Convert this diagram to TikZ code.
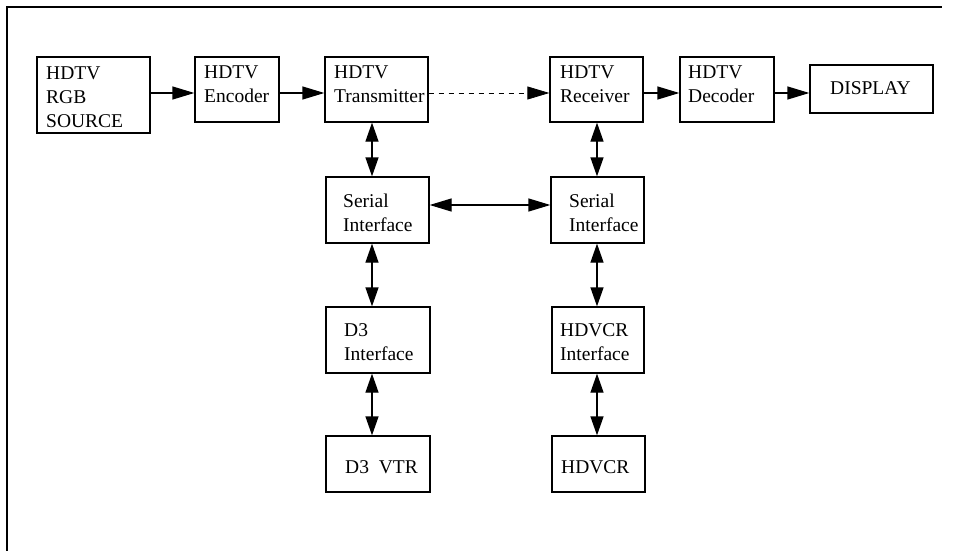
\documentclass[tikz,border=0pt]{standalone}
\usepackage{fontspec}
\setmainfont{Liberation Serif}
\usetikzlibrary{arrows.meta}
\begin{document}
\begin{tikzpicture}[x=1pt,y=-1pt,
 box/.style={draw, line width=1.3pt, inner sep=0pt},
 txt/.style={anchor=base west, align=left, inner sep=0pt, font=\fontsize{19.5}{24}\selectfont},
 arr/.style={line width=1.3pt, -{Triangle[length=22pt,width=13pt]}},
 darr/.style={line width=1.3pt, {Triangle[length=19pt,width=13pt]}-{Triangle[length=19pt,width=13pt]}},
 harr/.style={line width=1.3pt, {Triangle[length=22pt,width=13pt]}-{Triangle[length=22pt,width=13pt]}},
]
\useasboundingbox (0,0) rectangle (955,551);
\draw[line width=1.2pt] (7,551) -- (7,7) -- (942,7);
% boxes
\node[box, minimum width=113pt, minimum height=76pt] (src) at (93.5,95) {};
\node[box, minimum width=84pt, minimum height=65pt] (enc) at (237,89.5) {};
\node[box, minimum width=103pt, minimum height=65pt] (trans) at (376.5,89.5) {};
\node[box, minimum width=93pt, minimum height=65pt] (recv) at (596.5,89.5) {};
\node[box, minimum width=94pt, minimum height=65pt] (dec) at (727,89.5) {};
\node[box, minimum width=123pt, minimum height=48pt] (disp) at (871.5,89) {};
\node[box, minimum width=103pt, minimum height=66pt] (serL) at (377.5,210) {};
\node[box, minimum width=93pt, minimum height=66pt] (serR) at (597.5,210) {};
\node[box, minimum width=104pt, minimum height=66pt] (d3i) at (378,340) {};
\node[box, minimum width=92pt, minimum height=66pt] (hdi) at (598,340) {};
\node[box, minimum width=104pt, minimum height=56pt] (d3v) at (378,464) {};
\node[box, minimum width=93pt, minimum height=56pt] (hdv) at (598.5,464) {};
% texts (anchor = baseline of the last line)
\node[txt] (srct) at (46,127) {HDTV\\RGB\\SOURCE};
\node[txt] (enct) at (204,102) {HDTV\\Encoder};
\node[txt] (transt) at (334,102) {HDTV\\Transmitter};
\node[txt] (recvt) at (560,102) {HDTV\\Receiver};
\node[txt] (dect) at (688,102) {HDTV\\Decoder};
\node[txt] (dispt) at (830,94) {DISPLAY};
\node[txt] (serLt) at (343,231) {Serial\\Interface};
\node[txt] (serRt) at (569,231) {Serial\\Interface};
\node[txt] (d3it) at (344,360) {D3\\Interface};
\node[txt] (hdit) at (560,360) {HDVCR\\Interface};
\node[txt] (d3vt) at (345,473) {D3\ \ VTR};
\node[txt] (hdvt) at (561,473) {HDVCR};
% helper coordinates
\coordinate (rowT) at (0,93);
\coordinate (rowS) at (0,205);
\coordinate (colL) at (372,0);
\coordinate (colR) at (597,0);
% connectors
\draw[arr] (src.east |- rowT) -- (enc.west |- rowT);
\draw[arr] (enc.east |- rowT) -- (trans.west |- rowT);
\draw[line width=0.8pt, dash pattern=on 5pt off 5pt, -{Triangle[length=22pt,width=13pt]}] (trans.east |- rowT) -- (recv.west |- rowT);
\draw[arr] (recv.east |- rowT) -- (dec.west |- rowT);
\draw[arr] (dec.east |- rowT) -- (disp.west |- rowT);
\draw[harr] (serL.east |- rowS) -- (serR.west |- rowS);
\draw[darr] (trans.south -| colL) -- (serL.north -| colL);
\draw[darr] (serL.south -| colL) -- (d3i.north -| colL);
\draw[darr] (d3i.south -| colL) -- (d3v.north -| colL);
\draw[darr] (recv.south -| colR) -- (serR.north -| colR);
\draw[darr] (serR.south -| colR) -- (hdi.north -| colR);
\draw[darr] (hdi.south -| colR) -- (hdv.north -| colR);
\end{tikzpicture}
\end{document}
